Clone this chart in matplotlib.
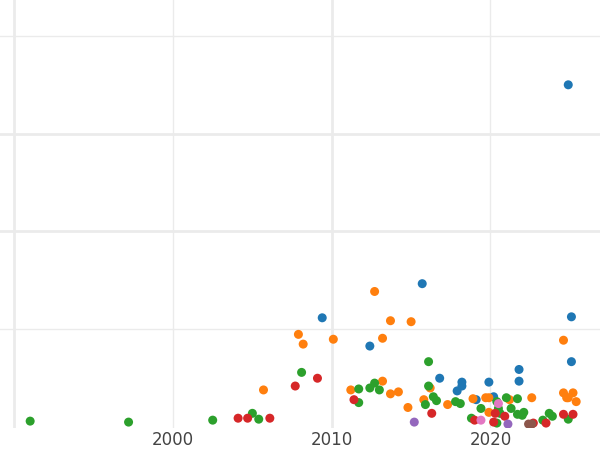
import matplotlib.pyplot as plt

blue_x = [2024.9, 2015.7, 2009.4, 2012.4, 2025.1, 2025.1, 2021.8, 2021.8, 2016.8,
          2018.2, 2018.2, 2017.9, 2019.9, 2019.1, 2020.2]
blue_y = [3.50, 1.46, 1.11, 0.82, 1.12, 0.66, 0.58, 0.46, 0.49,
          0.45, 0.41, 0.36, 0.45, 0.27, 0.30]

orange_x = [2012.7, 2007.9, 2008.2, 2010.1, 2013.7, 2015.0, 2013.2, 2005.7, 2011.2,
            2013.2, 2013.7, 2014.2, 2014.8, 2015.8, 2016.2, 2017.3, 2018.9, 2019.7,
            2019.9, 2019.9, 2021.2, 2022.6, 2024.6, 2024.6, 2024.9, 2025.2, 2025.4,
            2024.8]
orange_y = [1.38, 0.94, 0.84, 0.89, 1.08, 1.07, 0.90, 0.37, 0.37,
            0.46, 0.33, 0.35, 0.19, 0.27, 0.39, 0.22, 0.28, 0.29,
            0.29, 0.14, 0.27, 0.29, 0.88, 0.34, 0.29, 0.34, 0.25,
            0.29]

green_x = [1991.0, 1997.2, 2002.5, 2005.0, 2005.4, 2008.1, 2011.7, 2011.7, 2012.4,
           2012.7, 2013.0, 2016.1, 2016.1, 2016.4, 2016.6, 2015.9, 2017.8, 2018.1,
           2018.8, 2019.4, 2020.4, 2020.5, 2020.6, 2020.4, 2021.0, 2021.3, 2021.7,
           2021.7, 2022.0, 2022.1, 2023.3, 2023.7, 2023.9, 2024.9]
green_y = [0.05, 0.04, 0.06, 0.13, 0.07, 0.55, 0.38, 0.24, 0.39,
           0.44, 0.37, 0.66, 0.41, 0.30, 0.26, 0.22, 0.25, 0.23,
           0.08, 0.18, 0.25, 0.18, 0.13, 0.03, 0.29, 0.18, 0.28,
           0.12, 0.11, 0.14, 0.06, 0.13, 0.10, 0.07]

red_x = [2004.1, 2004.7, 2006.1, 2007.7, 2009.1, 2011.4, 2016.3, 2019.0, 2020.2,
         2020.3, 2020.9, 2022.7, 2023.5, 2024.6, 2025.2]
red_y = [0.08, 0.08, 0.08, 0.41, 0.49, 0.27, 0.13, 0.06, 0.04,
         0.13, 0.10, 0.03, 0.03, 0.12, 0.12]

purple_x = [2015.2, 2021.1]
purple_y = [0.04, 0.02]

pink_x = [2019.4, 2020.5]
pink_y = [0.06, 0.23]

brown_x = [2022.4, 2022.6]
brown_y = [0.02, 0.02]

series = [
    (blue_x, blue_y, "#1f77b4"),
    (orange_x, orange_y, "#ff7f0e"),
    (green_x, green_y, "#2ca02c"),
    (red_x, red_y, "#d62728"),
    (purple_x, purple_y, "#9467bd"),
    (pink_x, pink_y, "#e377c2"),
    (brown_x, brown_y, "#8c564b"),
]

fig = plt.figure(figsize=(6, 4.5), dpi=100)
ax = fig.add_axes([0, 0.049, 1, 0.951])

for x in [1990, 2010, 2030]:
    ax.axvline(x, color="#ebebeb", lw=2, zorder=0)
for x in [2000, 2020]:
    ax.axvline(x, color="#ebebeb", lw=1, zorder=0)
for y in [2, 3]:
    ax.axhline(y, color="#ebebeb", lw=2, zorder=0)
for y in [1, 4]:
    ax.axhline(y, color="#ebebeb", lw=1, zorder=0)

for xs, ys, c in series:
    ax.scatter(xs, ys, s=42, color=c, edgecolors="none", zorder=3)

ax.set_xlim(1989.1, 2026.9)
ax.set_ylim(-0.02, 4.37)
ax.set_xticks([2000, 2010, 2020])
ax.set_xticklabels(["2000", "2010", "2020"])
ax.set_yticks([])
ax.tick_params(axis="x", length=0, pad=2, labelsize=12, labelcolor="#444444")
for s in ax.spines.values():
    s.set_visible(False)

fig.savefig("out.png")
